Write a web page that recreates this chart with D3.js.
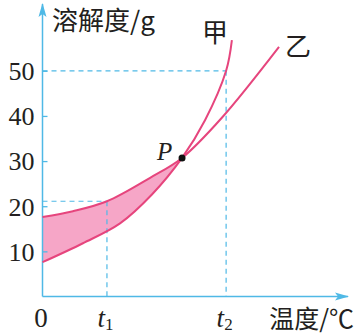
<!DOCTYPE html>
<html>
<head>
<meta http-equiv="Content-Type" content="text/html; charset=utf-8">
<script src="https://cdnjs.cloudflare.com/ajax/libs/d3/7.8.5/d3.min.js"></script>
<style>
  body { margin: 0; background: #fff; }
  text { fill: #231f20; }
</style>
</head>
<body>
<div id="chart"></div>
<script>
// ---------------- data (temperature in arbitrary units, solubility in g)
var jiaT = [0, 13.3, 25.5, 36.0, 45.9, 53.5, 60.4, 62.3];
var jiaS = [7.6, 11.8, 16.2, 22.6, 30.7, 39.1, 50.0, 56.8];
var yiT  = [0, 10, 21.2, 35.4, 45.9, 59.0, 77.8];
var yiS  = [17.6, 18.9, 21.1, 26.3, 30.7, 39.6, 55.3];
var pointP = [45.9, 30.7];
var t1 = 21.2, t2 = 60.4;
var yiAtT1 = 21.1, jiaAtT2 = 50;
var yTicks = [10, 20, 30, 40, 50];
var xTickValues = [0, t1, t2];
var xTickLabels = ["0", "t|1", "t|2"];

var serif = "'Liberation Serif', 'Times New Roman', 'DejaVu Serif', serif";
var cjk = "'Noto Sans CJK SC', sans-serif";

// ---------------- svg
var width = 355, height = 336;
var svg = d3.select("#chart").append("svg")
  .attr("width", width).attr("height", height);

var x = d3.scaleLinear().domain([0, 100]).range([42.5, 346.5]);
var y = d3.scaleLinear().domain([0, 50]).range([296.5, 70.8]);

var axisColor = "#4fb9e6";
var lineColor = "#e6457d";
var fillColor = "#f6a6c7";

var jia = jiaT.map(function(t, i) { return [t, jiaS[i]]; });
var yi = yiT.map(function(t, i) { return [t, yiS[i]]; });

var curve = d3.curveCatmullRom.alpha(0.5);

var defs = svg.append("defs");
defs.append("clipPath").attr("id", "leftOfP")
  .append("rect")
  .attr("x", x(0)).attr("y", 0)
  .attr("width", x(pointP[0]) - x(0)).attr("height", height);
// region above 甲
defs.append("clipPath").attr("id", "aboveJia")
  .append("path")
  .attr("d", d3.area().curve(curve)
    .x(function(d) { return x(d[0]); })
    .y0(0)
    .y1(function(d) { return y(d[1]); })(jia));

defs.append("marker").attr("id", "arrow")
  .attr("viewBox", "0 0 14 10").attr("refX", 13).attr("refY", 5)
  .attr("markerWidth", 14).attr("markerHeight", 10)
  .attr("markerUnits", "userSpaceOnUse")
  .attr("orient", "auto")
  .append("path").attr("d", "M0,1 L14,5 L0,9 L3,5 Z").attr("fill", axisColor);

// ---------------- shaded region between curves, left of P
svg.append("g").attr("clip-path", "url(#leftOfP)")
  .append("g").attr("clip-path", "url(#aboveJia)")
  .append("path")
  .attr("d", d3.area().curve(curve)
    .x(function(d) { return x(d[0]); })
    .y0(y(0))
    .y1(function(d) { return y(d[1]); })(yi))
  .attr("fill", fillColor);

// ---------------- dashed guides
var guides = [
  [[0, yiAtT1], [t1, yiAtT1]],
  [[t1, yiAtT1], [t1, 0]],
  [[0, jiaAtT2], [t2, jiaAtT2]],
  [[t2, jiaAtT2], [t2, 0]]
];
svg.selectAll("line.guide").data(guides).enter().append("line")
  .attr("class", "guide")
  .attr("x1", function(d) { return x(d[0][0]); })
  .attr("y1", function(d) { return y(d[0][1]); })
  .attr("x2", function(d) { return x(d[1][0]); })
  .attr("y2", function(d) { return y(d[1][1]); })
  .attr("stroke", axisColor).attr("stroke-width", 1.2)
  .attr("stroke-dasharray", "5,4");

// ---------------- axes
var yAxis = svg.append("g")
  .attr("transform", "translate(" + x(0) + ",0)")
  .call(d3.axisLeft(y).tickValues(yTicks).tickSizeInner(-5).tickSizeOuter(0).tickPadding(8));
yAxis.select(".domain").remove();
yAxis.selectAll(".tick line").attr("stroke", axisColor).attr("stroke-width", 1.3);
yAxis.selectAll(".tick text")
  .style("font-family", serif).style("font-size", "26px").style("fill", "#231f20")
  .attr("dy", "0.34em");

var xAxis = svg.append("g")
  .attr("transform", "translate(0," + y(0) + ")")
  .call(d3.axisBottom(x).tickValues(xTickValues).tickSize(0));
xAxis.select(".domain").remove();
xAxis.selectAll(".tick text")
  .style("font-family", serif).style("font-size", "27px").style("fill", "#231f20")
  .attr("y", 30).attr("dy", null)
  .each(function(d, i) {
    var parts = xTickLabels[i].split("|");
    var t = d3.select(this).text(null);
    if (parts.length === 1) {
      t.attr("x", -2).text(parts[0]);
    } else {
      t.attr("x", -2);
      t.append("tspan").style("font-style", "italic").text(parts[0]);
      t.append("tspan").style("font-size", "17px").attr("dy", 3).text(parts[1]);
    }
  });

svg.append("line")
  .attr("x1", x(0)).attr("y1", y(0)).attr("x2", x(0)).attr("y2", 4)
  .attr("stroke", axisColor).attr("stroke-width", 1.5).attr("marker-end", "url(#arrow)");
svg.append("line")
  .attr("x1", x(0)).attr("y1", y(0)).attr("x2", 348).attr("y2", y(0))
  .attr("stroke", axisColor).attr("stroke-width", 1.5).attr("marker-end", "url(#arrow)");

// ---------------- curves
var line = d3.line().curve(curve)
  .x(function(d) { return x(d[0]); })
  .y(function(d) { return y(d[1]); });

svg.selectAll("path.curve").data([jia, yi]).enter().append("path")
  .attr("class", "curve")
  .attr("d", line)
  .attr("fill", "none").attr("stroke", lineColor).attr("stroke-width", 2);

svg.append("circle")
  .attr("cx", x(pointP[0])).attr("cy", y(pointP[1])).attr("r", 3.5)
  .attr("fill", "#111");

// ---------------- labels
svg.append("text").attr("x", x(pointP[0]) - 25).attr("y", y(pointP[1]) + 2)
  .style("font-family", serif).style("font-style", "italic").style("font-size", "25px").text("P");

svg.append("text").attr("x", 52).attr("y", 30)
  .style("font-family", cjk).style("font-size", "26px").text("溶解度/g");
svg.append("text").attr("x", 202).attr("y", 42)
  .style("font-family", cjk).style("font-size", "26px").text("甲");
svg.append("text").attr("x", 285).attr("y", 56)
  .style("font-family", cjk).style("font-size", "26px").text("乙");
svg.append("text").attr("x", 354).attr("y", 328).attr("text-anchor", "end")
  .style("font-family", cjk).style("font-size", "25px").text("温度/℃");
</script>
</body>
</html>
